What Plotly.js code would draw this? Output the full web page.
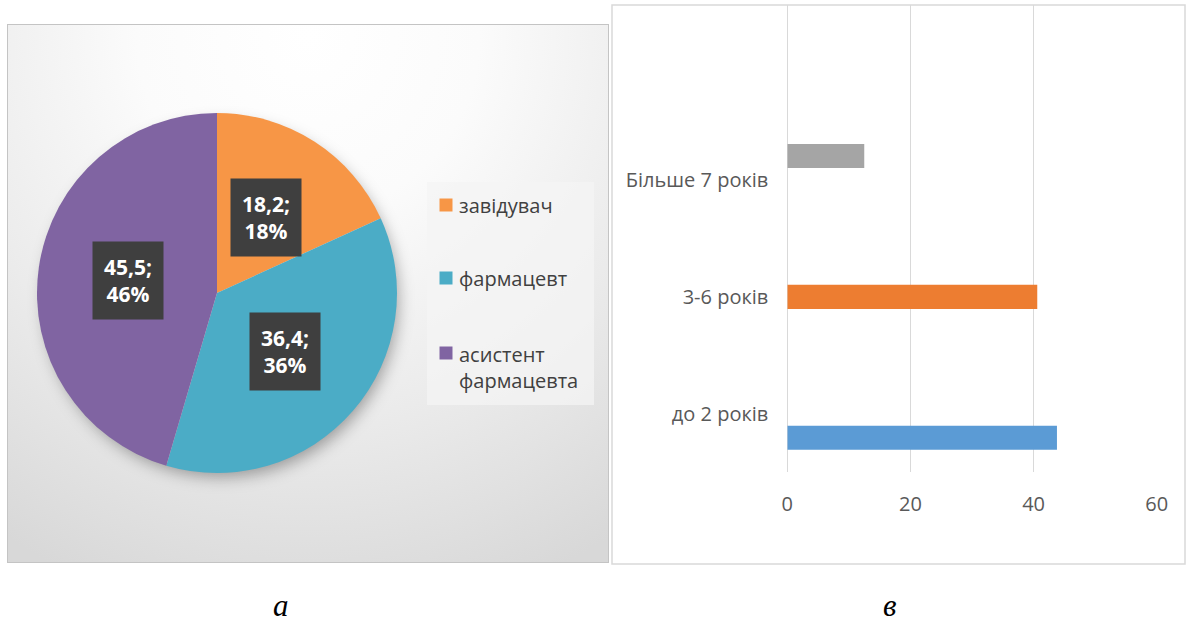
<!DOCTYPE html>
<html>
<head>
<meta charset="utf-8">
<script src="https://cdn.plot.ly/plotly-3.0.1.min.js"></script>
<style>
  html, body { margin: 0; padding: 0; background: #ffffff; }
  #wrap { position: relative; width: 1187px; height: 626px; overflow: hidden; }
  #piePanel {
    position: absolute; left: 7px; top: 24px; width: 600px; height: 537px;
    border: 1.5px solid #c4c4c4;
    background: radial-gradient(ellipse 95% 110% at 50% 2%, #ffffff 0%, #fbfbfb 30%, #ebebeb 65%, #d8d8d8 100%);
  }
  #pieShadow {
    position: absolute; left: 40px; top: 116px; width: 354px; height: 354px;
    border-radius: 50%;
    background: rgba(0, 0, 0, 0.05);
    box-shadow: 4px 7px 16px rgba(0, 0, 0, 0.35);
  }
  #chart { position: absolute; left: 0; top: 0; width: 1187px; height: 626px; }
</style>
</head>
<body>
<div id="wrap">
  <div id="piePanel"></div>
  <div id="pieShadow"></div>
  <div id="chart"></div>
</div>
<script>
// ---- data: staff positions (pie) ----
const positions = ['завідувач', 'фармацевт', 'асистент<br>фармацевта'];
const positionValues = [18.2, 36.4, 45.5];
const positionPercents = [18, 36, 46];
const positionColors = ['#F79646', '#4BACC6', '#8064A2'];

// ---- data: work experience (bars) ----
const experience = ['до 2 років', '3-6 років', 'Більше 7 років'];
const experienceValues = [43.8, 40.6, 12.5];
const experienceColors = ['#5B9BD5', '#ED7D31', '#A5A5A5'];

// ---- captions ----
const captions = ['а', 'в'];

// ---- layout geometry (pixels) ----
const W = 1187, H = 626;
const px = x => x / W;
const py = y => 1 - y / H;
const pieBox = { x0: 37, x1: 397, y0: 113, y1: 473 };
const barBox = { x0: 787.3, x1: 1156.7, y0: 5, y1: 472 };
const FONT = 'Open Sans, Noto Sans, sans-serif';

const traces = [];

traces.push({
  type: 'pie',
  labels: positions,
  values: positionValues,
  marker: { colors: positionColors, line: { width: 0 } },
  sort: false,
  direction: 'clockwise',
  rotation: 0,
  textinfo: 'none',
  hoverinfo: 'none',
  showlegend: false,
  domain: { x: [px(pieBox.x0), px(pieBox.x1)], y: [py(pieBox.y1), py(pieBox.y0)] }
});

// one bar trace per experience group so each takes its own slot in the group
experience.forEach((cat, k) => {
  traces.push({
    type: 'bar',
    orientation: 'h',
    y: experience,
    x: experience.map((c, i) => (i === k ? experienceValues[i] : null)),
    marker: { color: experienceColors[k] },
    hoverinfo: 'none',
    showlegend: false,
    xaxis: 'x',
    yaxis: 'y'
  });
});

const annotations = [];
const shapes = [];

// value labels on the pie slices: dark boxes at half radius on each slice's mid-angle
const total = positionValues.reduce((a, b) => a + b, 0);
const cx = (pieBox.x0 + pieBox.x1) / 2, cy = (pieBox.y0 + pieBox.y1) / 2;
const r = (pieBox.x1 - pieBox.x0) / 2;
let cum = 0;
positionValues.forEach((v, i) => {
  const mid = (cum + v / 2) / total * 2 * Math.PI;
  cum += v;
  const lx = cx + 0.5 * r * Math.sin(mid);
  const ly = cy - 0.5 * r * Math.cos(mid);
  annotations.push({
    xref: 'paper', yref: 'paper', x: px(lx), y: py(ly),
    xanchor: 'center', yanchor: 'middle', showarrow: false,
    text: String(v).replace('.', ',') + ';<br>' + positionPercents[i] + '%',
    font: { family: FONT, size: 21, color: '#ffffff', weight: 'bold' },
    bgcolor: '#3f3f3f', borderpad: 11, align: 'center'
  });
});

// legend of the pie
shapes.push({
  type: 'rect', xref: 'paper', yref: 'paper', layer: 'below',
  x0: px(427), x1: px(594), y0: py(405), y1: py(182),
  fillcolor: 'rgba(244,244,244,0.75)', line: { width: 0 }
});
const legendRows = [205, 278, 367.5];
positions.forEach((lab, i) => {
  const y = legendRows[i];
  const lines = lab.split('<br>').length;
  const firstLine = y - (lines - 1) * 14.5;
  shapes.push({
    type: 'rect', xref: 'paper', yref: 'paper',
    x0: px(439.5), x1: px(452.5), y0: py(firstLine + 6.5), y1: py(firstLine - 6.5),
    fillcolor: positionColors[i], line: { width: 0 }
  });
  annotations.push({
    xref: 'paper', yref: 'paper', x: px(457), y: py(y),
    xanchor: 'left', yanchor: 'middle', showarrow: false, align: 'left',
    text: lab, font: { family: FONT, size: 20, color: '#404040' }
  });
});

// frame of the bar panel
shapes.push({
  type: 'rect', xref: 'paper', yref: 'paper', layer: 'below',
  x0: px(612), x1: px(1185), y0: py(564), y1: py(5),
  fillcolor: '#ffffff', line: { color: '#d9d9d9', width: 1.5 }
});

// panel captions
[[281, captions[0]], [889, captions[1]]].forEach(([x, t]) => {
  annotations.push({
    xref: 'paper', yref: 'paper', x: px(x), y: py(605),
    xanchor: 'center', yanchor: 'middle', showarrow: false,
    text: '<i>' + t + '</i>',
    font: { family: 'Liberation Serif, DejaVu Serif, serif', size: 31, color: '#000000' }
  });
});

const layout = {
  width: W, height: H,
  margin: { l: 0, r: 0, t: 0, b: 0 },
  paper_bgcolor: 'rgba(0,0,0,0)',
  plot_bgcolor: 'rgba(0,0,0,0)',
  font: { family: FONT, size: 20, color: '#595959' },
  barmode: 'group',
  bargap: 0.383,
  bargroupgap: 0,
  xaxis: {
    domain: [px(barBox.x0), px(barBox.x1)],
    range: [0, 60],
    tickvals: [0, 20, 40, 60],
    showgrid: true, gridcolor: '#d9d9d9', gridwidth: 1.5,
    zeroline: true, zerolinecolor: '#d9d9d9', zerolinewidth: 1.5,
    showline: false, ticks: '',
    ticklabelstandoff: 18,
    tickfont: { family: FONT, size: 20, color: '#595959' },
    fixedrange: true
  },
  yaxis: {
    domain: [py(barBox.y1), py(barBox.y0)],
    type: 'category',
    categoryarray: experience,
    range: [-0.5, 3.5],
    showgrid: false, zeroline: false, showline: false, ticks: '',
    ticklabelstandoff: 18,
    tickfont: { family: FONT, size: 20, color: '#595959' },
    fixedrange: true
  },
  annotations: annotations,
  shapes: shapes
};

Plotly.newPlot('chart', traces, layout, { staticPlot: true, displayModeBar: false });
</script>
</body>
</html>
